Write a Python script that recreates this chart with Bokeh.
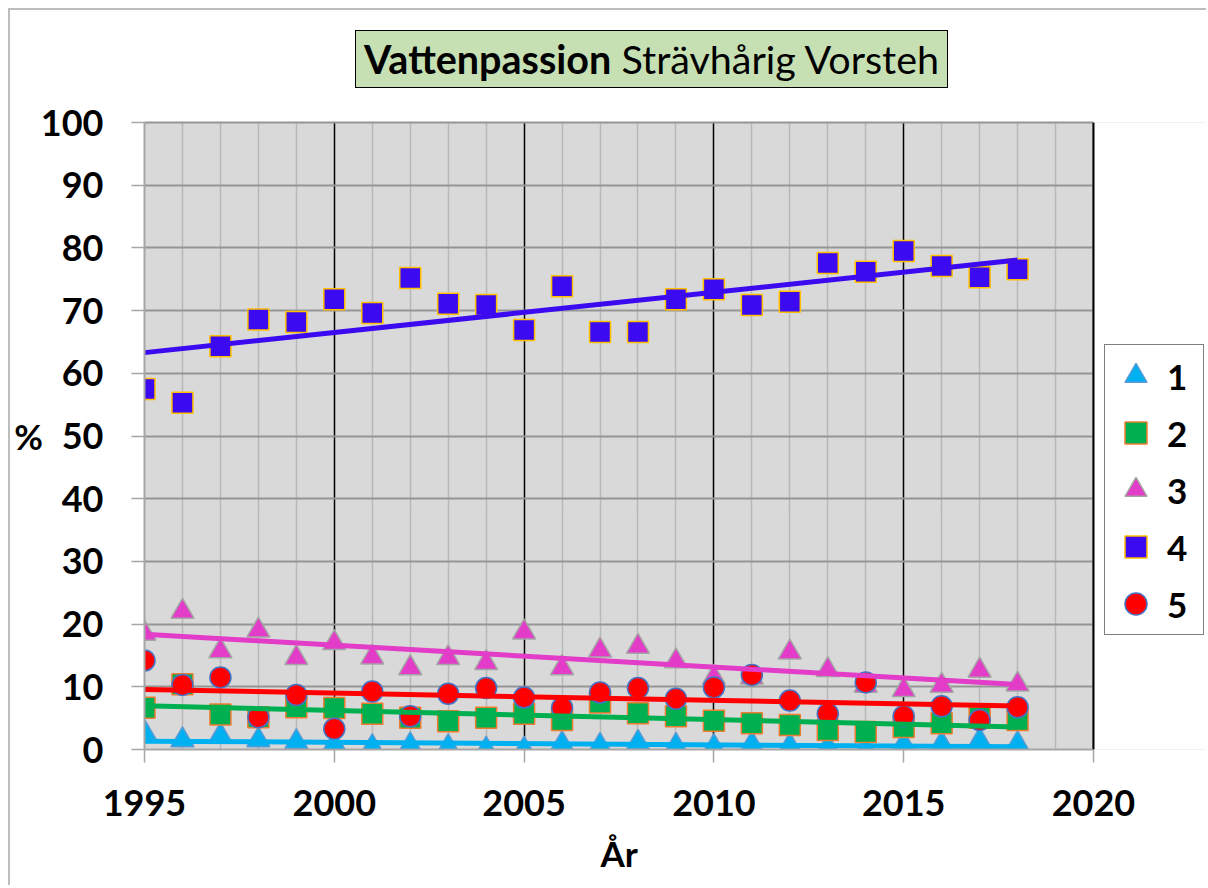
import numpy as np
from bokeh.plotting import figure
from bokeh.layouts import column
from bokeh.models import (FixedTicker, Legend, LegendItem, Div, BoxAnnotation, Span, Title,
                          LinearAxis)
from bokeh.embed import file_html
from bokeh.resources import INLINE

years = list(range(1995, 2019))
s1 = [2.7, 1.5, 2.2, 1.5, 1.2, 0.85, 0.4, 0.7, 0.4, 0.0, 0.0, 0.9, 0.6, 1.1, 0.6, 0.4, 0.85, 0.6, 0.4, 0.1, 0.9, 0.9, 1.4, 0.9]
s2 = [6.65, 10.4, 5.6, 5.15, 6.75, 6.6, 5.7, 5.05, 4.5, 5.05, 5.7, 4.7, 7.5, 5.8, 5.3, 4.6, 4.2, 3.9, 3.1, 2.8, 3.6, 4.2, 5.05, 4.7]
s3 = [18.5, 22.0, 15.7, 19.0, 14.6, 17.0, 14.7, 13.0, 14.6, 13.8, 18.7, 13.0, 15.8, 16.4, 14.1, 11.5, 11.5, 15.5, 12.7, 10.2, 9.5, 10.2, 12.6, 10.4]
s4 = [57.5, 55.3, 64.3, 68.6, 68.2, 71.8, 69.6, 75.2, 71.1, 70.9, 66.9, 73.9, 66.6, 66.6, 71.8, 73.4, 70.9, 71.4, 77.6, 76.2, 79.5, 77.1, 75.3, 76.6]
s5 = [14.2, 10.3, 11.5, 5.15, 8.7, 3.3, 9.25, 5.3, 8.9, 9.8, 8.3, 6.65, 9.1, 9.8, 8.1, 9.9, 11.9, 7.8, 5.7, 10.7, 5.3, 6.9, 4.7, 6.75]
series_names = ["1", "2", "3", "4", "5"]
x_ticks = [1995, 2000, 2005, 2010, 2015, 2020]
y_ticks = [0, 10, 20, 30, 40, 50, 60, 70, 80, 90, 100]
title_bold = "Vattenpassion"
title_rest = "Strävhårig Vorsteh"
x_label = "År"
y_label = "%"

FONT = "Lato"
X0, X1 = x_ticks[0], x_ticks[-1]

# layout (pixels)
FIG_W, LEFT = 1196, 134
PLOT_W, PLOT_H = 949, 627
FRAME_W = FIG_W - LEFT                     # frame extends into the right margin (legend lives there)
x_end = X0 + (X1 - X0) * FRAME_W / PLOT_W

title_div = Div(
    text=('<div style="padding-left:345px;padding-top:20px;">'
          '<div style="width:593px;height:58px;box-sizing:border-box;background:#C6E0B4;'
          'border:1.5px solid #000;display:flex;align-items:center;justify-content:center;'
          'font-family:Lato;font-size:39.5px;color:#000;white-space:nowrap;">'
          f'<b>{title_bold}</b>&nbsp;{title_rest}</div></div>'),
    width=FIG_W, height=90, margin=0)

fig = figure(output_backend="svg", toolbar_location=None,
             x_range=(X0, x_end), y_range=(y_ticks[0], y_ticks[-1]), margin=0,
             frame_width=FRAME_W, frame_height=PLOT_H,
             min_border_left=LEFT, min_border_right=0, min_border_top=22, min_border_bottom=0)
fig.background_fill_color = "#D9D9D9"
fig.border_fill_color = "white"
fig.outline_line_color = None

xticker = FixedTicker(ticks=x_ticks, minor_ticks=[y for y in range(X0, X1 + 1) if y % 5 != 0])
yticker = FixedTicker(ticks=y_ticks, minor_ticks=[])
fig.xaxis.ticker = xticker
fig.yaxis.ticker = yticker
fig.xaxis.bounds = (X0, X1)
for ax in (fig.xaxis, fig.yaxis):
    ax.axis_line_color = "#A6A6A6"
    ax.axis_line_width = 2
    ax.major_tick_line_color = "#A6A6A6"
    ax.major_tick_line_width = 1.5
    ax.major_tick_out = 13
    ax.major_tick_in = 0
    ax.minor_tick_line_color = None
    ax.major_label_text_font = FONT
    ax.major_label_text_font_style = "bold"
    ax.major_label_text_font_size = "36px"
    ax.major_label_text_color = "black"
    ax.axis_label_text_font = FONT
    ax.axis_label_text_font_style = "bold"
    ax.axis_label_text_font_size = "35px"
    ax.axis_label_text_color = "black"
fig.xaxis.major_label_standoff = 27
fig.yaxis.major_label_standoff = 28
fig.yaxis.axis_label = y_label
fig.yaxis.axis_label_orientation = "horizontal"
fig.yaxis.axis_label_standoff = -5

fig.xgrid.ticker = xticker
fig.xgrid.grid_line_color = "black"
fig.xgrid.grid_line_width = 1.5
fig.xgrid.minor_grid_line_color = "#B8B8B8"
fig.xgrid.minor_grid_line_width = 1.5
fig.ygrid.ticker = FixedTicker(ticks=y_ticks[:-1], minor_ticks=[])
fig.ygrid.grid_line_color = "#959595"
fig.ygrid.grid_line_width = 2

# top edge of the plot area (stops at the last x tick)
top_axis = LinearAxis(bounds=(X0, X1), ticker=FixedTicker(ticks=[], minor_ticks=[]),
                      axis_line_color="#959595", axis_line_width=2,
                      major_tick_line_color=None, minor_tick_line_color=None,
                      major_label_text_font_size="0px", major_label_standoff=0)
fig.add_layout(top_axis, "above")

# x-axis title, centred under the plot area (not under the wider frame)
x_title = Title(text=x_label, align="left", offset=456, standoff=23,
                text_font=FONT, text_font_style="bold", text_font_size="35px",
                text_color="black")
fig.add_layout(x_title, "below")

styles = [
    dict(data=s1, marker="triangle", fill="#00B0F0", line="#5B9BD5", trend="#00B0F0"),
    dict(data=s2, marker="square", fill="#00B050", line="#ED7D31", trend="#00B050"),
    dict(data=s3, marker="triangle", fill="#E33CC8", line="#A5A5A5", trend="#E33CC8"),
    dict(data=s4, marker="square", fill="#3B0AF0", line="#FFC000", trend="#3B0AF0"),
    dict(data=s5, marker="circle", fill="#FF0000", line="#4472C4", trend="#FF0000"),
]

items = []
for name, st in zip(series_names, styles):
    size = 23 if st["marker"] == "triangle" else 21
    r = fig.scatter(years, st["data"], marker=st["marker"], size=size,
                    fill_color=st["fill"], line_color=st["line"], line_width=1.5)
    items.append(LegendItem(label=name, renderers=[r]))

yr = np.array(years, dtype=float)
for st in styles:
    k, m = np.polyfit(yr, np.array(st["data"]), 1)
    xs = [years[0], years[-1]]
    fig.line(xs, [k * xs[0] + m, k * xs[1] + m], line_color=st["trend"], line_width=5)

# white out the part of the frame right of the plot area, keep a dark edge at 2020
fig.add_layout(BoxAnnotation(left=X1, fill_color="white", fill_alpha=1, line_color=None))
fig.add_layout(Span(location=X1, dimension="height", line_color="black", line_width=2))

legend = Legend(items=items, location=(960, 114))
legend.border_line_color = "black"
legend.border_line_width = 1.5
legend.background_fill_color = "white"
legend.background_fill_alpha = 1
legend.glyph_width = 55
legend.glyph_height = 55
legend.label_height = 55
legend.label_width = 33
legend.spacing = 2
legend.padding = 3
legend.margin = 0
legend.label_standoff = 4
legend.label_text_font = FONT
legend.label_text_font_style = "bold"
legend.label_text_font_size = "35px"
legend.label_text_color = "black"
fig.add_layout(legend, "center")

p = column(title_div, fig, spacing=0, margin=(8, 0, 0, 8))
p.styles = {"border-left": "2px solid #BDBDBD", "border-top": "2px solid #BDBDBD"}

open("out.html", "w").write(file_html(p, INLINE))
